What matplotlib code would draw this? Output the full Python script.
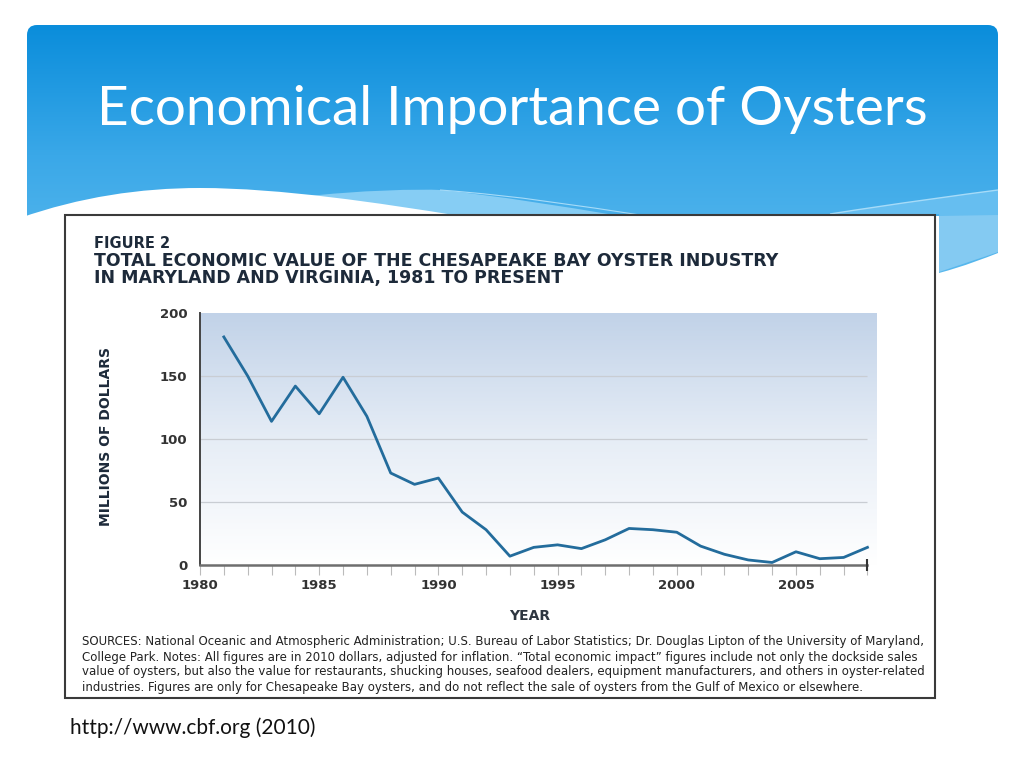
import numpy as np
import matplotlib
matplotlib.use('Agg')
from matplotlib import pyplot as plt
from matplotlib.patches import FancyBboxPatch, PathPatch, Rectangle
from matplotlib.path import Path

years = list(range(1981, 2009))
values = [181, 150, 114, 142, 120, 149, 118, 73, 64, 69, 42, 28, 7, 14,
          16, 13, 20, 29, 28, 26, 15, 8.5, 4, 2, 10.5, 5, 6, 14]
y_ticks = [0, 50, 100, 150, 200]
grid_vals = [50, 100, 150]
x_tick_years = list(range(1980, 2009))

slide_title = 'Economical Importance of Oysters'
fig_label = 'FIGURE 2'
fig_title = ['TOTAL ECONOMIC VALUE OF THE CHESAPEAKE BAY OYSTER INDUSTRY',
             'IN MARYLAND AND VIRGINIA, 1981 TO PRESENT']
sources = [
    'SOURCES: National Oceanic and Atmospheric Administration; U.S. Bureau of Labor Statistics; Dr. Douglas Lipton of the University of Maryland,',
    'College Park. Notes: All figures are in 2010 dollars, adjusted for inflation. \u201cTotal economic impact\u201d figures include not only the dockside sales',
    'value of oysters, but also the value for restaurants, shucking houses, seafood dealers, equipment manufacturers, and others in oyster-related',
    'industries. Figures are only for Chesapeake Bay oysters, and do not reflect the sale of oysters from the Gulf of Mexico or elsewhere.',
]
footer = 'http://www.cbf.org (2010)'

W, H = 1024, 768
fig = plt.figure(figsize=(10.24, 7.68), dpi=100)
fig.patch.set_facecolor('white')

# slide background in pixel coords
bg = fig.add_axes([0, 0, 1, 1])
bg.set_xlim(0, W)
bg.set_ylim(H, 0)
bg.axis('off')

panel = FancyBboxPatch((27, 25), 971, 260, boxstyle='round,pad=0,rounding_size=10',
                       fc='none', ec='none')
bg.add_patch(panel)
grad = np.linspace(0, 1, 256).reshape(-1, 1)
cmap = matplotlib.colors.LinearSegmentedColormap.from_list('b', ['#0a8ddb', '#3aa8e8', '#5cbaee'])
im = bg.imshow(grad, extent=[27, 998, 285, 25], cmap=cmap, aspect='auto', zorder=1)
im.set_clip_path(panel)

M, L, C = Path.MOVETO, Path.LINETO, Path.CURVE4

# lighter wisp on the left
wisp = Path([(300, 197), (360, 190), (420, 189), (440, 190),
             (500, 196), (560, 206), (620, 216),
             (460, 216), (300, 197)],
            [M, C, C, C, C, C, C, L, L])
bg.add_patch(PathPatch(wisp, fc='#86cdf4', ec='none', zorder=2))
bg.plot([640, 720], [215, 215], alpha=0)

# lighter wisp on the right
rwisp = Path([(830, 214), (900, 203), (960, 195), (998, 190),
              (998, 252), (975, 262), (939, 272), (939, 214), (830, 214)],
             [M, C, C, C, L, C, C, L, L])
bg.add_patch(PathPatch(rwisp, fc='#66bef0', ec='none', zorder=2))
bg.add_patch(PathPatch(Path([(939, 216), (939, 272), (960, 265), (998, 252), (998, 215)],
                            [M, L, L, L, L]), fc='#84caf2', ec='none', zorder=2))
bg.add_patch(PathPatch(Path([(830, 214), (900, 203), (960, 195), (998, 190)], [M, C, C, C]),
                       fc='none', ec='#a6dbf8', lw=1, zorder=2))
bg.add_patch(PathPatch(Path([(440, 190), (520, 196), (580, 206), (640, 215)], [M, C, C, C]),
                       fc='none', ec='#a6dbf8', lw=0.8, zorder=2))

# white sweep under the panel
white = Path([(20, 218), (80, 197), (140, 188), (200, 188),
              (280, 188), (380, 203), (460, 216),
              (939, 216), (939, 273), (965, 266), (985, 258), (998, 253),
              (1010, 253), (1010, 300), (20, 300), (20, 218)],
             [M, C, C, C, C, C, C, L, L, C, C, C, L, L, L, L])
bg.add_patch(PathPatch(white, fc='white', ec='none', zorder=3))

bg.text(512, 110, slide_title, color='white', fontsize=39.5, family='Lato',
        ha='center', va='center', zorder=5)

box = Rectangle((65, 215), 870, 483, fc='white', ec='#3a3a3a', lw=1.5, zorder=4)
bg.add_patch(box)

navy = '#1d2a3a'
bg.text(94, 244, fig_label, color=navy, fontsize=10.5, weight='bold',
        va='center', zorder=5)
bg.text(94, 261, fig_title[0], color=navy, fontsize=12.5, weight='bold',
        va='center', zorder=5)
bg.text(94, 278, fig_title[1], color=navy, fontsize=12.5, weight='bold',
        va='center', zorder=5)
bg.text(106, 437, 'MILLIONS OF DOLLARS', color=navy, fontsize=10, weight='bold',
        rotation=90, ha='center', va='center', zorder=5)
bg.text(530, 616, 'YEAR', color='#2e3640', fontsize=10, weight='bold',
        ha='center', va='center', zorder=5)
for i, line in enumerate(sources):
    bg.text(82, 642 + i * 15, line, color='#222222', fontsize=8.45,
            va='center', zorder=5)

bg.text(70, 728, footer, color='#111111', fontsize=15, family='Lato',
        va='center', zorder=5)

# chart
x0, x1, ytop, ybot = 200, 877, 313, 565
ax = fig.add_axes([x0 / W, (H - ybot) / H, (x1 - x0) / W, (ybot - ytop) / H], zorder=6)
ax.set_xlim(1980, 2008.4)
ax.set_ylim(0, 200)
ax.patch.set_alpha(0)
cm2 = matplotlib.colors.LinearSegmentedColormap.from_list('g', ['#ffffff', '#e6edf6', '#c1d2e8'])
ax.imshow(grad, extent=[1980, 2008.4, 0, 200], cmap=cm2, origin='lower',
          aspect='auto', zorder=0)
ax.hlines(grid_vals, 1980, 2008, color='#c9cdd3', lw=0.9, zorder=1)
ax.plot(years, values, color='#236c9c', lw=2.0, zorder=3, solid_joinstyle='round')

for s in ['top', 'right']:
    ax.spines[s].set_visible(False)
ax.spines['left'].set_color('#444444')
ax.spines['left'].set_linewidth(1.4)
ax.spines['bottom'].set_color('#6e6e6e')
ax.spines['bottom'].set_linewidth(1.8)
ax.spines['bottom'].set_bounds(1980, 2008)
ax.set_xticks(x_tick_years)
ax.set_xticklabels([str(y) if y % 5 == 0 else '' for y in x_tick_years])
ax.set_yticks(y_ticks)
ax.tick_params(axis='x', length=7, width=0.8, color='#bbbbbb', pad=3,
               labelsize=9.5, labelcolor='#333333')
ax.tick_params(axis='y', length=0, pad=9, labelsize=9.5, labelcolor='#333333')
for lab in ax.get_xticklabels() + ax.get_yticklabels():
    lab.set_fontweight('bold')
ax.vlines(2008, -5, 5, color='#333333', lw=1.5, clip_on=False, zorder=4)

fig.savefig('out.png', dpi=100)
